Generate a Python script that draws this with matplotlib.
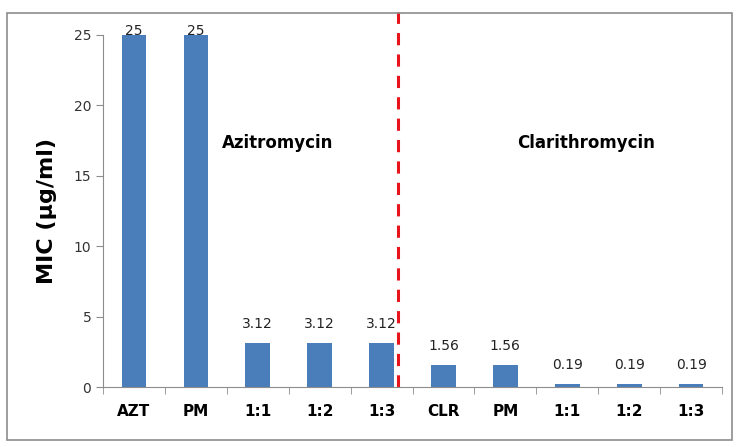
import numpy as np
import matplotlib.pyplot as plt
from matplotlib.patches import Rectangle

labels = ['AZT', 'PM', '1:1', '1:2', '1:3', 'CLR', 'PM', '1:1', '1:2', '1:3']
mic = [25, 25, 3.12, 3.12, 3.12, 1.56, 1.56, 0.19, 0.19, 0.19]
value_text = ['25', '25', '3.12', '3.12', '3.12', '1.56', '1.56', '0.19', '0.19', '0.19']

fig = plt.figure(figsize=(7.36, 4.47), dpi=100)
# outer chart border
fig.patches.append(Rectangle((0.01, 0.015), 0.985, 0.955, transform=fig.transFigure,
                             fill=False, edgecolor='#8c8c8c', linewidth=1.2))
ax = fig.add_axes([0.14, 0.134, 0.841, 0.788])

ind = np.arange(len(mic))
ax.bar(ind, mic, 0.4, color='#4a7ebb', align='center')

ax.set_xlim(-0.5, len(mic) - 0.5)
ax.set_ylim(0, 25)
ax.set_yticks(np.arange(0, 26, 5))
ax.set_xticks(ind)
ax.set_xticklabels(labels, fontweight='bold', fontsize=11)
ax.set_xticks(np.arange(-0.5, len(mic), 1), minor=True)
ax.tick_params(axis='x', which='major', length=0, pad=12)
ax.tick_params(axis='x', which='minor', length=5, direction='out', color='#8c8c8c')
ax.tick_params(axis='y', length=5, color='#8c8c8c', labelsize=10, labelcolor='#333333')

for s in ['top', 'right']:
    ax.spines[s].set_visible(False)
for s in ['left', 'bottom']:
    ax.spines[s].set_color('#8c8c8c')

ax.set_ylabel('MIC (µg/ml)', fontweight='bold', fontsize=16, labelpad=12)

# labels sit above the bars; the tallest ones are pushed down against the top
for i in ind:
    off = -2 if mic[i] >= 25 else 9
    ax.annotate(value_text[i], (i, mic[i]), xytext=(0, off), textcoords='offset points',
                ha='center', va='bottom', fontsize=10, color='#222222', annotation_clip=False)

# separator between the two drug groups
ax.plot([4.26, 4.26], [0, 1.065], color='#e8141c', linestyle='--', linewidth=2.2,
        dashes=(4, 3), transform=ax.get_xaxis_transform(), clip_on=False)

ax.text(2.32, 17.3, 'Azitromycin', fontweight='bold', fontsize=12, ha='center', va='center')
ax.text(7.3, 17.3, 'Clarithromycin', fontweight='bold', fontsize=12, ha='center', va='center')

plt.savefig('out.png')
